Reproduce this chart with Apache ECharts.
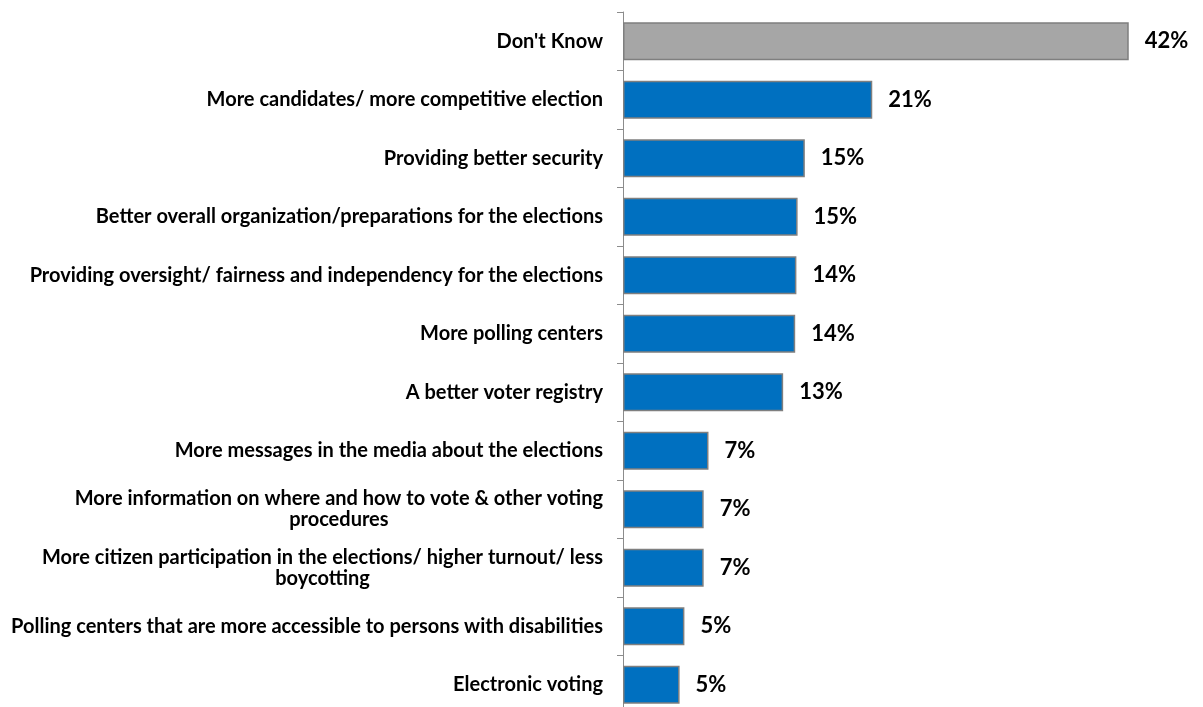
<!DOCTYPE html>
<html>
<head>
<meta charset="utf-8">
<title>Suggested improvements for the elections</title>
<script src="https://cdn.jsdelivr.net/npm/echarts@6/dist/echarts.min.js"></script>
<style>
  html, body { margin: 0; padding: 0; background: #ffffff; overflow: hidden; }
  /* the axis runs slightly past the visible bottom edge, so the canvas is a bit taller */
  #chart { width: 1203px; height: 720px; }
</style>
</head>
<body>
<div id="chart"></div>
<script>
// Survey answers, top to bottom
const categories = [
  "Don't Know",
  "More candidates/ more competitive election",
  "Providing better security",
  "Better overall organization/preparations for the elections",
  "Providing oversight/ fairness and independency for the elections",
  "More polling centers",
  "A better voter registry",
  "More messages in the media about the elections",
  "More information on where and how to vote & other voting\nprocedures",
  "More citizen participation in the elections/ higher turnout/ less\nboycotting",
  "Polling centers that are more accessible to persons with disabilities",
  "Electronic voting"
];

// Share of respondents, in percent
const values = [42, 20.7, 15.1, 14.5, 14.4, 14.3, 13.3, 7.1, 6.7, 6.7, 5.1, 4.7];

// Answers drawn in neutral grey instead of blue
const neutralCategories = ["Don't Know"];

const BLUE = '#0070C0';
const GREY = '#A6A6A6';
const BORDER = '#7F7F7F';
const FONT = 'Lato, "Open Sans", sans-serif';

const seriesData = values.map((v, i) => ({
  value: v,
  itemStyle: {
    color: neutralCategories.includes(categories[i]) ? GREY : BLUE
  }
}));

const chart = echarts.init(document.getElementById('chart'), null, { renderer: 'canvas' });

chart.setOption({
  animation: false,
  backgroundColor: '#ffffff',
  grid: {
    left: 623,
    top: 12,
    width: 578,
    height: 702,
    containLabel: false
  },
  xAxis: {
    type: 'value',
    min: 0,
    max: 48,
    show: false
  },
  yAxis: {
    type: 'category',
    data: categories,
    inverse: true,
    axisLine: { show: true, lineStyle: { color: '#8C8C8C', width: 1 } },
    axisTick: { show: true, length: 6, lineStyle: { color: '#8C8C8C', width: 1 } },
    splitLine: { show: false },
    axisLabel: {
      margin: 20,
      interval: 0,
      formatter: (txt) => txt.split('\n').map(l => '{c|' + l + '}').join('\n'),
      rich: {
        c: {
          align: 'center',
          fontFamily: FONT,
          fontWeight: 'bold',
          fontSize: 20,
          lineHeight: 21,
          color: '#000000'
        }
      }
    }
  },
  series: [{
    type: 'bar',
    data: seriesData,
    barCategoryGap: '35%',
    itemStyle: { borderColor: BORDER, borderWidth: 1.5 },
    label: {
      show: true,
      position: 'right',
      distance: 16,
      fontFamily: FONT,
      fontWeight: 'bold',
      fontSize: 22,
      color: '#000000',
      formatter: (p) => Math.round(p.value) + '%'
    }
  }]
});
</script>
</body>
</html>
